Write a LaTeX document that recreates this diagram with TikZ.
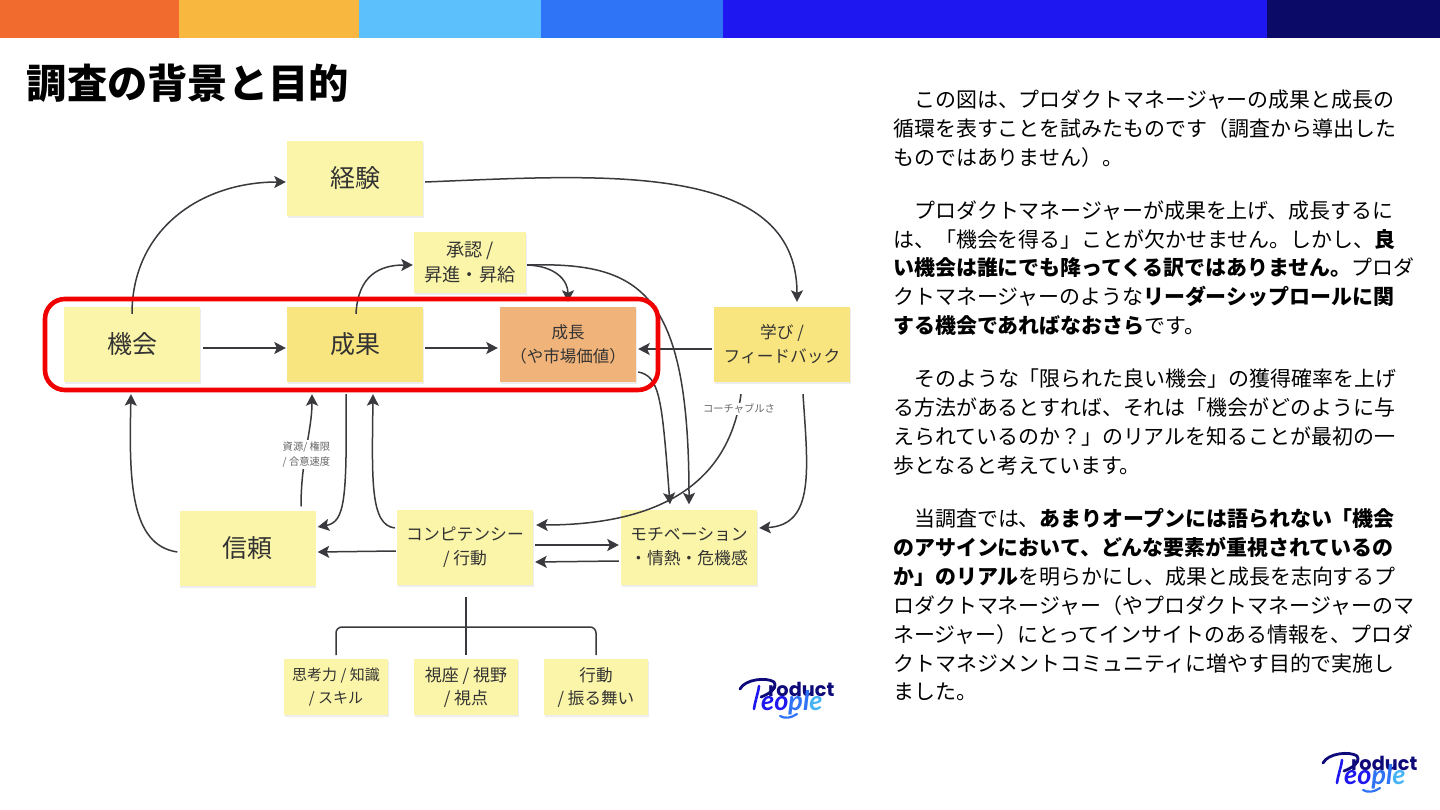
\documentclass[tikz,border=0pt]{standalone}
\usepackage{fontspec}
\setmainfont{Noto Sans CJK JP}
\newfontfamily\logofont{Poppins}
\newfontfamily\logoscript{Lato}
\usetikzlibrary{arrows.meta,calc,shadows}
\definecolor{inkc}{HTML}{3A3A3E}
\definecolor{txtc}{HTML}{333333}
\definecolor{stickyA}{HTML}{FBF5A9}
\definecolor{stickyB}{HTML}{F9E57F}
\definecolor{stickyC}{HTML}{F0B37A}
\definecolor{redc}{HTML}{F00000}
\definecolor{lgA}{HTML}{0F0A7A}
\definecolor{lgB}{HTML}{1E17F0}
\definecolor{lgC}{HTML}{2F74F6}
\definecolor{lgD}{HTML}{45B4F5}
\newcommand{\fs}[2]{\fontsize{#1}{#2}\selectfont}
\tikzset{
 sticky/.style={rectangle,inner sep=0,fill=stickyA,text=txtc,align=center,
   general shadow={fill=black,opacity=.07,shadow xshift=.5pt,shadow yshift=-2pt}},
 bigsticky/.style={sticky,minimum width=136,minimum height=75},
 smallsticky/.style={sticky,minimum width=104,minimum height=56},
 arr/.style={draw=inkc,line width=1.5,-{Stealth[length=11.5pt,width=12pt,inset=2.5pt]}},
 plainln/.style={draw=inkc,line width=1.5},
 note/.style={fill=white,inner sep=1pt,text=black!60,align=center,font=\fs{10.3}{15.5}},
 para/.style={anchor=base west,inner sep=0,text=black,font=\fs{20.95}{25}},
}
\newcommand{\logomark}[3]{%
 \begin{scope}[shift={(#2,#3)}]
  \draw[lgA,line width=2.8,line cap=round] (23,23) .. controls (28,13) and (50,11) .. (57,16) .. controls (61,22) and (52,28) .. (44,31);
  \draw[lgB,line width=2.6,line cap=round] (42,20) .. controls (41,28) and (38,35) .. (37,43);
  \draw[lgC,line width=2.2,line cap=round] (63,50) .. controls (68,53) and (74,52) .. (80,48);
  \node[anchor=base west,inner sep=0,text=lgA,font=\logofont\bfseries\fs{19.3}{20}] (#1r) at (51,30) {roduct};
  \node[anchor=base west,inner sep=0,font=\logoscript\itshape\bfseries\fs{27}{27}] (#1p) at (44,44)
   {{\color{lgB}e}{\color{lgB}o}{\color{lgC}p}{\color{lgC}l}{\color{lgD}e}};
 \end{scope}}
\begin{document}
\begin{tikzpicture}[x=1pt,y=-1pt]
\useasboundingbox (0,0) rectangle (1440,810);
\fill[white] (0,0) rectangle (1440,810);
% top band
\fill[fill={rgb,255:red,242;green,107;blue,46}] (0,0) rectangle (179,38);
\fill[fill={rgb,255:red,248;green,183;blue,63}] (179,0) rectangle (359,38);
\fill[fill={rgb,255:red,91;green,192;blue,251}] (359,0) rectangle (541,38);
\fill[fill={rgb,255:red,47;green,116;blue,246}] (541,0) rectangle (723,38);
\fill[fill={rgb,255:red,30;green,23;blue,240}] (723,0) rectangle (1267,38);
\fill[fill={rgb,255:red,11;green,10;blue,102}] (1267,0) rectangle (1440,38);
% title
\node[anchor=base west,inner sep=0,text=black,font=\bfseries\fs{40.3}{44}] (title) at (26.5,99) {調査の背景と目的};
% stickies
\node[bigsticky,font=\fs{25}{30}] (kikai) at (132,344.5) {機会};
\node[bigsticky,fill=stickyB,font=\fs{25}{30}] (seika) at (355,344.5) {成果};
\node[bigsticky,fill=stickyC,font=\fs{16.5}{24}] (seicho) at (568,344.5) {成長\\（や市場価値）};
\node[bigsticky,font=\fs{25}{30}] (keiken) at (355,178.5) {経験};
\node[sticky,minimum width=112,minimum height=61,font=\fs{18.2}{25}] (shonin) at (470,262.5) {承認 /\\昇進・昇給};
\node[bigsticky,fill=stickyB,font=\fs{16.7}{24}] (manabi) at (782,344.5) {学び /\\フィードバック};
\node[bigsticky,font=\fs{25}{30}] (shinrai) at (247.5,548) {信頼};
\node[bigsticky,font=\fs{16.8}{24}] (comp) at (465,547) {コンピテンシー\\/ 行動};
\node[bigsticky,font=\fs{16.8}{24}] (moti) at (689,547) {モチベーション\\・情熱・危機感};
\node[smallsticky,font=\fs{15}{23}] (sk1) at (336,687) {思考力 / 知識\\/ スキル};
\node[smallsticky,font=\fs{17}{23}] (sk2) at (466,687) {視座 / 視野\\/ 視点};
\node[smallsticky,font=\fs{16.6}{23}] (sk3) at (596,687) {行動\\/ 振る舞い};
% connectors
\draw[arr] ($(kikai.north)+(0,7)$) .. controls (132,230) and (200,182) .. ($(keiken.west)+(-1,3.5)$);
\draw[arr] ($(kikai.east)+(3,3.5)$) -- ($(seika.west)+(-1,3.5)$);
\draw[arr] ($(seika.east)+(2,3.5)$) -- ($(seicho.west)+(-2,3.5)$);
\draw[arr] ($(keiken.east)+(2,3.5)$) .. controls (600,175) and (797,160) .. ($(manabi.north)+(15,-5)$);
\draw[arr] ($(seika.north)+(1,7)$) .. controls (358,275) and (380,265) .. ($(shonin.west)+(-1,2.5)$);
\draw[arr] ($(shonin.east)+(1,2.5)$) .. controls (555,266) and (568,280) .. ($(seicho.north)+(0,-5)$);
\draw[arr] ($(shonin.east)+(1,2.5)$) .. controls (640,262) and (689,290) .. ($(moti.north)+(0,-5)$);
\draw[arr] ($(seicho.east)+(2,27.5)$) .. controls (660,376) and (662,400) .. ($(moti.north)+(-19,-5)$);
\draw[arr] ($(manabi.west)+(-2,4.5)$) -- ($(seicho.east)+(2,4.5)$);
\draw[arr] ($(manabi.south)+(-41,12)$) .. controls (728,490) and (650,525) .. ($(comp.east)+(3,-22)$);
\draw[arr] ($(manabi.south)+(21,12)$) .. controls (808,470) and (815,525) .. ($(moti.east)+(2,-19)$);
\draw[arr] ($(comp.west)+(-2,-19)$) .. controls (370,525) and (372,480) .. ($(seika.south)+(18,12)$);
\draw[arr] ($(seika.south)+(-9,12)$) .. controls (347,500) and (345,522) .. ($(shinrai.east)+(2,-21)$);
\draw[arr] ($(shinrai.north)+(53.5,-4)$) .. controls (301,460) and (312,430) .. ($(seika.south)+(-43,12)$);
\draw[arr] ($(shinrai.west)+(-2,4)$) .. controls (130,545) and (129,480) .. ($(kikai.south)+(-1,12)$);
\draw[arr] ($(comp.west)+(-1,4)$) -- ($(shinrai.east)+(2,4)$);
\draw[arr] ($(comp.east)+(2,-2)$) -- ($(moti.west)+(-2,-2)$);
\draw[arr] ($(moti.west)+(-2,14)$) -- ($(comp.east)+(2,15)$);
% notes on lines
\node[note] (noteA) at (739,409) {コーチャブルさ};
\node[note] (noteB) at (306.5,454.5) {資源/ 権限\\/ 合意速度};
% tree
\coordinate (treetop) at ($(comp.south)+(1,12.5)$);
\coordinate (treemid) at (466,627);
\draw[plainln] (treetop) -- (treemid) -- (sk2.north|-0,655);
\draw[plainln,rounded corners=6] (sk1.north|-0,655) -- (sk1.north|-treemid) -- (treemid) -- (sk3.north|-treemid) -- (sk3.north|-0,655);
% red frame
\draw[draw=redc,line width=4.6,rounded corners=20] (45,299) rectangle (658,390);
% body text
\node[para] (p1) at (914,107.5) {この図は、プロダクトマネージャーの成果と成長の};
\node[para] (p2) at (893,136.5) {循環を表すことを試みたものです（調査から導出した};
\node[para] (p3) at (893,165.5) {ものではありません）。};
\node[para] (p4) at (914,218.5) {プロダクトマネージャーが成果を上げ、成長するに};
\node[para] (p5) at (893,247.5) {は、「機会を得る」ことが欠かせません。しかし、\textbf{良}};
\node[para] (p6) at (893,276) {\textbf{い機会は誰にでも降ってくる訳ではありません。}プロダ};
\node[para] (p7) at (893,305) {クトマネージャーのような\textbf{リーダーシップロールに関}};
\node[para] (p8) at (893,333.5) {\textbf{する機会であればなおさら}です。};
\node[para] (p9) at (914,386.5) {そのような「限られた良い機会」の獲得確率を上げ};
\node[para] (p10) at (893,415.5) {る方法があるとすれば、それは「機会がどのように与};
\node[para] (p11) at (893,444.5) {えられているのか？」のリアルを知ることが最初の一};
\node[para] (p12) at (893,473.5) {歩となると考えています。};
\node[para] (p13) at (914,526.5) {当調査では、\textbf{あまりオープンには語られない「機会}};
\node[para] (p14) at (893,555.5) {\textbf{のアサインにおいて、どんな要素が重視されているの}};
\node[para] (p15) at (893,584.5) {\textbf{か」のリアル}を明らかにし、成果と成長を志向するプ};
\node[para] (p16) at (893,613) {ロダクトマネージャー（やプロダクトマネージャーのマ};
\node[para] (p17) at (893,642) {ネージャー）にとってインサイトのある情報を、プロダ};
\node[para] (p18) at (893,671) {クトマネジメントコミュニティに増やす目的で実施し};
\node[para] (p19) at (893,699.5) {ました。};
% logos
\logomark{la}{1300}{740}
\logomark{lb}{717}{666}
\end{tikzpicture}
\end{document}
